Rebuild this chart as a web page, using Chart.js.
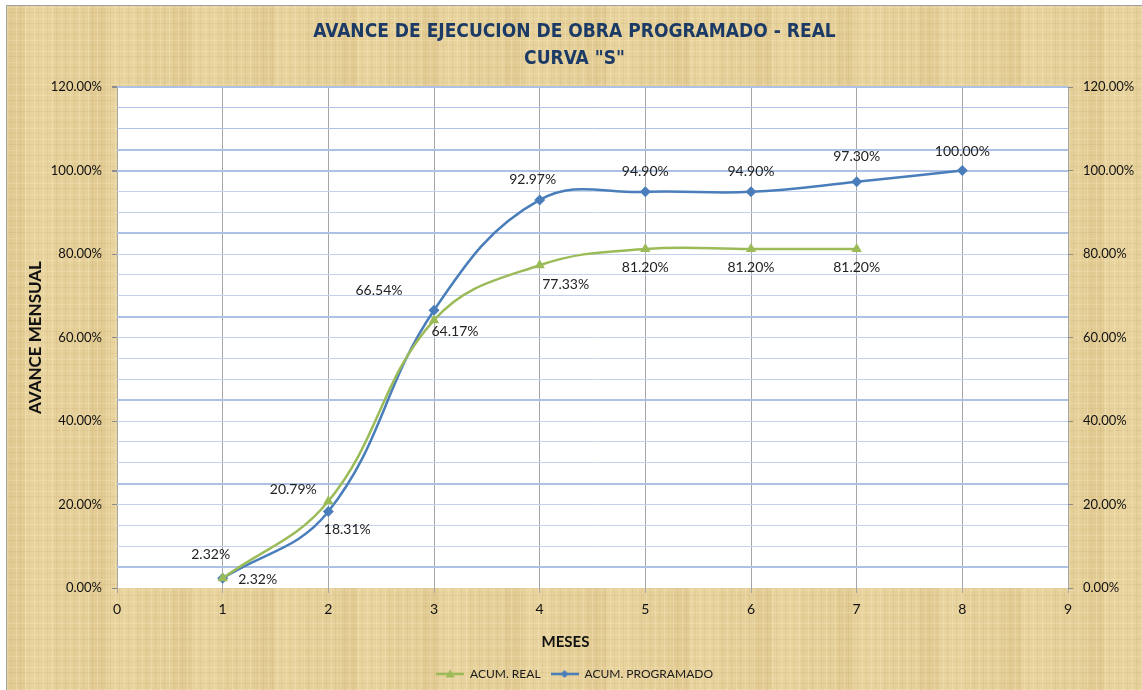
<!DOCTYPE html>
<html lang="es">
<head>
<meta charset="UTF-8">
<title>Curva S - Avance de Obra</title>
<script src="https://cdn.jsdelivr.net/npm/chart.js"></script>
<style>
  body { margin: 0; background: #fff; }
  .frame {
    position: absolute; left: 6px; top: 5px; width: 1136px; height: 685px;
    box-sizing: border-box;
    border-left: 1px solid #a0a0a0; border-top: 1px solid #a0a0a0;
    background-color: #e6d099;
    background-image:
      repeating-linear-gradient(90deg, rgba(255,248,220,.22) 0 1px, rgba(0,0,0,0) 1px 4px, rgba(150,110,40,.08) 4px 5px, rgba(0,0,0,0) 5px 9px),
      repeating-linear-gradient(0deg, rgba(255,248,220,.18) 0 1px, rgba(0,0,0,0) 1px 6px, rgba(140,100,30,.07) 6px 7px, rgba(0,0,0,0) 7px 11px),
      repeating-linear-gradient(90deg, rgba(170,130,60,.06) 0 18px, rgba(255,245,210,.08) 18px 47px, rgba(0,0,0,0) 47px 83px);
  }
  .chart-box { position: relative; width: 1135px; height: 684px; }
</style>
</head>
<body>
<div class="frame">
  <div class="chart-box"><canvas id="curvaS"></canvas></div>
</div>

<script>
// datos
const meses = [1, 2, 3, 4, 5, 6, 7, 8];
const acumReal = [2.32, 20.79, 64.17, 77.33, 81.20, 81.20, 81.20];
const acumProgramado = [2.32, 18.31, 66.54, 92.97, 94.90, 94.90, 97.30, 100.00];

// desplazamiento de las etiquetas respecto al punto (px)
const realLabelPos = [[-12, -24], [-35, -12], [21, 11], [26, 19], [0, 18], [0, 18], [0, 18]];
const progLabelPos = [[35, 1], [19, 18], [-55, -20], [-7, -20], [0, -20], [0, -20], [0, -25], [0, -19]];

const azul = '#4a7ebb';
const verde = '#9bbb59';
const fuente = 'Lato, "Open Sans", sans-serif';

function legendIcon(color, shape) {
  const c = document.createElement('canvas');
  c.width = 28; c.height = 12;
  const g = c.getContext('2d');
  g.strokeStyle = color; g.lineWidth = 2.5;
  g.beginPath(); g.moveTo(0, 6); g.lineTo(28, 6); g.stroke();
  g.fillStyle = color;
  g.beginPath();
  if (shape === 'tri') {
    g.moveTo(14, 1.5); g.lineTo(18.5, 9.5); g.lineTo(9.5, 9.5);
  } else {
    g.moveTo(14, 2); g.lineTo(18, 6); g.lineTo(14, 10); g.lineTo(10, 6);
  }
  g.closePath(); g.fill();
  return c;
}
const legendIcons = [legendIcon(verde, 'tri'), legendIcon(azul, 'dia')];

const plotBg = {
  id: 'plotBg',
  beforeDraw(chart) {
    const a = chart.chartArea, ctx = chart.ctx;
    ctx.save();
    ctx.fillStyle = '#ffffff';
    ctx.fillRect(a.left, a.top, a.right - a.left, a.bottom - a.top);
    ctx.restore();
  }
};

const dataLabels = {
  id: 'dataLabels',
  afterDatasetsDraw(chart) {
    const ctx = chart.ctx;
    ctx.save();
    ctx.font = '14px ' + fuente;
    ctx.fillStyle = '#222';
    ctx.textAlign = 'center';
    ctx.textBaseline = 'middle';
    chart.data.datasets.forEach((ds, di) => {
      const pos = di === 0 ? realLabelPos : progLabelPos;
      chart.getDatasetMeta(di).data.forEach((pt, i) => {
        ctx.fillText(ds.data[i].y.toFixed(2) + '%', pt.x + pos[i][0], pt.y + pos[i][1]);
      });
    });
    ctx.restore();
  }
};

const xTitle = {
  id: 'xTitle',
  afterDraw(chart) {
    const ctx = chart.ctx;
    ctx.save();
    ctx.font = 'bold 15px ' + fuente;
    ctx.fillStyle = '#111';
    ctx.textAlign = 'center';
    ctx.textBaseline = 'middle';
    ctx.fillText('MESES', chart.chartArea.left + (chart.chartArea.right - chart.chartArea.left) / 2 - 27, 636);
    ctx.restore();
  }
};

new Chart(document.getElementById('curvaS'), {
  type: 'line',
  data: {
    datasets: [{
      label: 'ACUM. REAL',
      data: acumReal.map((v, i) => ({ x: meses[i], y: v })),
      borderColor: verde,
      backgroundColor: verde,
      borderWidth: 2.5,
      pointStyle: 'triangle',
      pointRadius: 6,
      pointBorderWidth: 0,
      tension: 0.4
    }, {
      label: 'ACUM. PROGRAMADO',
      data: acumProgramado.map((v, i) => ({ x: meses[i], y: v })),
      borderColor: azul,
      backgroundColor: azul,
      borderWidth: 2.5,
      pointStyle: 'rectRot',
      pointRadius: 5.5,
      pointBorderWidth: 0,
      tension: 0.4
    }]
  },
  options: {
    responsive: true,
    maintainAspectRatio: false,
    animation: false,
    layout: { padding: 0 },
    plugins: {
      title: {
        display: true,
        text: ['AVANCE DE EJECUCION DE OBRA PROGRAMADO - REAL', 'CURVA "S"'],
        color: '#1c3a66',
        font: { family: '"Liberation Sans Narrow", "DejaVu Sans Condensed", "Open Sans", sans-serif', size: 19, weight: 'bold', lineHeight: 1.45 },
        padding: { top: 12, bottom: 14 }
      },
      legend: {
        position: 'bottom',
        labels: {
          usePointStyle: true,
          pointStyleWidth: 28,
          color: '#1a1a1a',
          font: { family: fuente, size: 12 },
          generateLabels(chart) {
            const items = Chart.defaults.plugins.legend.labels.generateLabels(chart);
            items.forEach((it, i) => { it.pointStyle = legendIcons[i]; });
            return items;
          }
        }
      },
      tooltip: { enabled: false }
    },
    scales: {
      x: {
        type: 'linear',
        min: 0, max: 9,
        ticks: { stepSize: 1, color: '#111', font: { family: fuente, size: 14 }, padding: 8 },
        grid: { color: '#a6a6a6', lineWidth: 1, tickLength: 5, tickColor: '#a6a6a6' },
        border: { display: false },
        afterFit(s) { s.height = 70; }
      },
      y: {
        position: 'left',
        min: 0, max: 120,
        ticks: {
          stepSize: 5, autoSkip: false, color: '#111', padding: 10,
          font: { family: fuente, size: 13 },
          callback: v => (v % 20 === 0 ? v.toFixed(2) + '%' : '')
        },
        grid: {
          tickLength: 5,
          color: c => (c.tick.value === 0 ? 'rgba(0,0,0,0)' : (c.tick.value % 20 === 5 || c.tick.value >= 100 ? '#adc1e4' : '#c4d2eb')),
          lineWidth: c => (c.tick.value % 20 === 5 || (c.tick.value >= 100 && c.tick.value % 20 === 0) ? 2 : 1),
          tickColor: c => (c.tick.value % 20 === 0 ? '#8c8c8c' : 'rgba(0,0,0,0)')
        },
        border: { display: false },
        title: {
          display: true, text: 'AVANCE MENSUAL', color: '#111',
          font: { family: fuente, size: 17, weight: 'bold' },
          padding: { top: 18, bottom: 0 }
        },
        afterFit(s) { s.width = 110; }
      },
      y2: {
        position: 'right',
        min: 0, max: 120,
        ticks: {
          stepSize: 20, color: '#111', padding: 10,
          font: { family: fuente, size: 13 },
          callback: v => v.toFixed(2) + '%'
        },
        grid: { drawOnChartArea: false, tickLength: 5, tickColor: '#8c8c8c' },
        border: { display: false },
        afterFit(s) { s.width = 74; }
      }
    }
  },
  plugins: [plotBg, dataLabels, xTitle]
});
</script>
</body>
</html>
